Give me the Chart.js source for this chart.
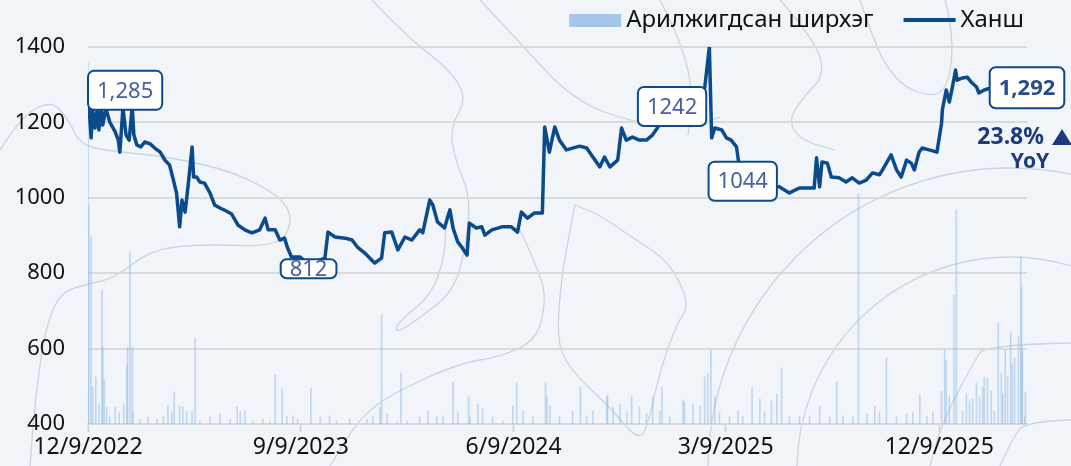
<!DOCTYPE html>
<html lang="mn">
<head>
<meta charset="utf-8">
<title>Ханш</title>
<script src="https://cdn.jsdelivr.net/npm/chart.js@4.4.1/dist/chart.umd.min.js"></script>
<style>
  html, body { margin: 0; padding: 0; background: #f1f5f9; }
  #wrap { position: relative; width: 1071px; height: 466px; }
</style>
</head>
<body>
<div id="wrap"><canvas id="chart"></canvas></div>
<script>
// x = days since 2022-12-09
const priceDays = [
  0, 4, 6, 9, 12, 14, 17, 19, 23, 28, 35, 39, 41, 45, 49, 53, 57, 59, 63, 68,
  73, 80, 86, 93, 99, 105, 109, 114, 118, 121, 125, 129, 131, 134, 136, 140, 144, 150, 157, 163,
  170, 178, 185, 193, 202, 211, 221, 228, 232, 241, 247, 253, 257, 262, 273, 280, 284, 292, 305, 309,
  318, 331, 340, 347, 356, 369, 378, 382, 391, 399, 408, 417, 427, 431, 440, 444, 450, 459, 466, 470,
  476, 482, 488, 491, 500, 507, 511, 520, 533, 545, 553, 558, 566, 575, 585, 588, 594, 601, 607, 616,
  633, 642, 650, 659, 665, 672, 682, 687, 693, 701, 710, 719, 727, 733, 742, 752, 770, 787, 794, 800,
  803, 807, 816, 822, 828, 835, 838, 843, 864, 890, 903, 916, 929, 935, 938, 942, 945, 952, 957, 967,
  976, 984, 993, 1002, 1010, 1019, 1023, 1034, 1041, 1047, 1054, 1060, 1064, 1070, 1074, 1083, 1093, 1099, 1100, 1105,
  1109, 1113, 1117, 1119, 1126, 1132, 1138, 1144, 1147, 1154, 1160, 1175, 1190, 1209
];
const priceValues = [
  1285, 1159, 1233, 1185, 1238, 1180, 1233, 1193, 1238, 1201, 1175, 1153, 1121, 1238, 1167, 1153, 1243, 1167, 1140, 1135,
  1148, 1143, 1132, 1121, 1100, 1087, 1055, 1013, 923, 994, 962, 1034, 1074, 1135, 1055, 1055, 1042, 1039, 1013, 981,
  973, 965, 957, 928, 915, 907, 915, 946, 915, 915, 888, 893, 867, 843, 843, 830, 812, 830, 840, 909,
  896, 893, 888, 869, 854, 827, 840, 907, 909, 862, 896, 888, 915, 907, 994, 981, 936, 920, 968, 920,
  883, 867, 848, 933, 920, 923, 901, 915, 923, 923, 909, 962, 946, 960, 960, 1188, 1121, 1188, 1153, 1127,
  1137, 1132, 1108, 1082, 1108, 1082, 1100, 1185, 1153, 1161, 1153, 1153, 1167, 1185, 1215, 1242, 1260, 1275, 1291, 1400,
  1159, 1185, 1180, 1159, 1153, 1135, 1090, 1044, 1034, 1029, 1013, 1026, 1026, 1026, 1106, 1029, 1095, 1092, 1055, 1053,
  1042, 1053, 1039, 1047, 1066, 1061, 1074, 1114, 1074, 1055, 1100, 1092, 1074, 1121, 1132, 1127, 1121, 1198, 1233, 1286,
  1254, 1294, 1339, 1312, 1318, 1320, 1305, 1294, 1278, 1286, 1290, 1295, 1288, 1292
];

// traded shares (thousands)
const volumeDays = [
  0, 1, 4, 6, 10, 14, 18, 19, 21, 24, 28, 35, 40, 46, 50, 51, 54, 57, 58, 67,
  77, 89, 97, 103, 108, 111, 118, 122, 127, 134, 138, 144, 157, 170, 183, 192, 196, 202, 212, 225,
  234, 241, 250, 256, 264, 270, 287, 299, 311, 320, 337, 359, 367, 376, 378, 385, 398, 403, 411, 427,
  438, 449, 457, 470, 476, 490, 492, 502, 508, 521, 534, 547, 552, 560, 573, 589, 591, 595, 607, 624,
  634, 642, 650, 668, 669, 676, 685, 694, 700, 710, 719, 727, 736, 739, 749, 766, 768, 779, 788, 794,
  798, 802, 807, 813, 826, 837, 843, 855, 865, 871, 880, 887, 893, 903, 916, 929, 942, 955, 964, 972,
  985, 992, 1003, 1013, 1019, 1028, 1041, 1054, 1062, 1071, 1080, 1088, 1099, 1103, 1105, 1109, 1115, 1118, 1126, 1131,
  1135, 1139, 1144, 1148, 1152, 1154, 1158, 1163, 1167, 1172, 1176, 1178, 1181, 1184, 1188, 1190, 1193, 1198, 1201, 1202,
  1203, 1206, 1207
];
const volumeValues = [
  958, 581, 496, 98, 125, 53, 355, 204, 117, 45, 19, 45, 32, 53, 157, 204, 456, 204, 34, 13,
  19, 13, 19, 48, 32, 85, 48, 45, 32, 34, 228, 8, 19, 27, 13, 45, 32, 34, 8, 13,
  8, 130, 93, 19, 21, 13, 95, 19, 21, 8, 13, 13, 19, 45, 289, 27, 5, 135, 8, 19,
  34, 19, 21, 111, 32, 72, 19, 53, 40, 19, 8, 48, 109, 34, 19, 109, 72, 48, 21, 34,
  98, 21, 34, 72, 77, 45, 53, 32, 74, 45, 27, 72, 34, 98, 19, 64, 58, 53, 48, 125,
  135, 196, 72, 32, 19, 34, 21, 98, 66, 32, 61, 80, 149, 19, 21, 21, 48, 19, 111, 21,
  19, 610, 27, 48, 32, 175, 19, 27, 32, 77, 21, 32, 87, 196, 170, 72, 342, 568, 34, 82,
  61, 66, 109, 72, 98, 125, 122, 87, 34, 268, 135, 80, 196, 125, 244, 159, 175, 231, 443, 363,
  196, 19, 85
];

const tickDays = [0, 274, 548, 821, 1096];
const tickLabels = ['12/9/2022', '9/9/2023', '6/9/2024', '3/9/2025', '12/9/2025'];

const calloutDays = [0, 284, 752, 843, 1209];
const calloutTexts = ['1,285', '812', '1242', '1044', '1,292'];
const yoyChange = '23.8%';

const NAVY = '#0b4a8b';
const FONT = "'Noto Sans', sans-serif";

// look of each callout box
const calloutLook = [
  { h: 39, font: '22px ' + FONT, color: '#4660a0' },
  { h: 19, font: '22px ' + FONT, color: '#4660a0' },
  { h: 39, font: '22px ' + FONT, color: '#4660a0' },
  { h: 39, font: '22px ' + FONT, color: '#4660a0' },
  { h: 41, font: 'bold 22px ' + FONT, color: '#2a4a8e' }
];

// faint topographic lines in the background
const contours = [
  [[0,150],[20,118],[50,100],[68,118],[80,145],[110,151],[170,157],[235,172],[283,198],[293,222],[278,247],[200,244],[150,250],[115,278],[88,284],[60,292],[45,330],[35,400],[30,466]],
  [[372,0],[405,35],[450,70],[467,98],[450,128],[455,160],[470,195],[467,240],[455,290],[420,318],[395,334],[398,322],[432,295],[445,255],[446,215]],
  [[480,0],[520,43],[573,100],[633,123],[693,127],[720,117]],
  [[660,0],[682,42],[694,100],[688,135]],
  [[520,230],[540,273],[546,300],[537,340],[500,357],[460,363],[395,392],[360,417],[330,466]],
  [[575,205],[567,245],[560,290],[557,347],[577,377],[610,407],[640,443],[650,417],[660,370],[677,323],[690,305],[670,262],[633,238],[600,215],[575,205]],
  [[860,0],[872,35],[885,65],[905,88],[933,97],[947,87],[953,55],[950,20],[945,0]],
  [[780,0],[815,40],[825,75],[805,95],[788,120],[800,140],[835,150]],
  [[1071,343],[985,345],[975,360],[943,420],[930,466]],
  [[1071,420],[1025,421],[1012,440],[1000,466]]
];

function smoothPath(ctx, pts) {
  ctx.beginPath();
  ctx.moveTo(pts[0][0], pts[0][1]);
  for (let i = 1; i < pts.length - 1; i++) {
    const mx = (pts[i][0] + pts[i + 1][0]) / 2;
    const my = (pts[i][1] + pts[i + 1][1]) / 2;
    ctx.quadraticCurveTo(pts[i][0], pts[i][1], mx, my);
  }
  const last = pts[pts.length - 1];
  ctx.lineTo(last[0], last[1]);
  ctx.stroke();
}

function roundBox(ctx, x, y, w, h, r) {
  ctx.beginPath();
  ctx.moveTo(x + r, y);
  ctx.arcTo(x + w, y, x + w, y + h, r);
  ctx.arcTo(x + w, y + h, x, y + h, r);
  ctx.arcTo(x, y + h, x, y, r);
  ctx.arcTo(x, y, x + w, y, r);
  ctx.closePath();
}

const backdrop = {
  id: 'backdrop',
  beforeDraw(chart) {
    const ctx = chart.ctx;
    ctx.save();
    ctx.fillStyle = '#f1f5f9';
    ctx.fillRect(0, 0, chart.width, chart.height);
    ctx.strokeStyle = 'rgba(150, 172, 200, 0.45)';
    ctx.lineWidth = 1.3;
    contours.forEach(c => smoothPath(ctx, c));
    [213, 302].forEach(r => {
      ctx.beginPath();
      ctx.arc(1010, 470, r, Math.PI, 2 * Math.PI);
      ctx.stroke();
    });
    ctx.restore();
  }
};

const overlay = {
  id: 'overlay',
  afterDatasetsDraw(chart) {
    const ctx = chart.ctx;
    const xs = chart.scales.x, ys = chart.scales.y;
    const area = chart.chartArea;
    ctx.save();

    // value callouts on the price line
    calloutDays.forEach((day, i) => {
      const value = priceValues[priceDays.indexOf(day)];
      const px = xs.getPixelForValue(day);
      const py = ys.getPixelForValue(value);
      const look = calloutLook[i];
      ctx.font = look.font;
      const w = ctx.measureText(calloutTexts[i]).width + 18;
      let left = px - w / 2;
      if (left < area.left) left = area.left;
      const top = py - look.h / 2;
      roundBox(ctx, left, top, w, look.h, 6);
      ctx.fillStyle = '#ffffff';
      ctx.fill();
      ctx.lineWidth = 2;
      ctx.strokeStyle = NAVY;
      ctx.stroke();
      ctx.fillStyle = look.color;
      ctx.textAlign = 'center';
      ctx.textBaseline = 'middle';
      ctx.fillText(calloutTexts[i], left + w / 2, py + 1);
    });

    // year-on-year change
    ctx.fillStyle = '#1d3a7a';
    ctx.font = 'bold 23px ' + FONT;
    ctx.textAlign = 'right';
    ctx.textBaseline = 'middle';
    ctx.fillText(yoyChange, 1044, 137);
    ctx.beginPath();
    ctx.moveTo(1052, 145);
    ctx.lineTo(1062, 129);
    ctx.lineTo(1072, 145);
    ctx.closePath();
    ctx.fill();
    ctx.font = 'bold 21px ' + FONT;
    ctx.textAlign = 'center';
    ctx.fillText('YoY', 1030, 162);

    // legend
    ctx.font = '24px ' + FONT;
    ctx.textAlign = 'left';
    ctx.fillStyle = '#111111';
    const priceLabel = chart.data.datasets[0].label;
    const volLabel = chart.data.datasets[1].label;
    const priceW = ctx.measureText(priceLabel).width;
    const volW = ctx.measureText(volLabel).width;
    const priceTextX = 1024 - priceW;
    ctx.fillText(priceLabel, priceTextX, 20);
    ctx.strokeStyle = NAVY;
    ctx.lineWidth = 4;
    ctx.beginPath();
    ctx.moveTo(priceTextX - 57, 20);
    ctx.lineTo(priceTextX - 5, 20);
    ctx.stroke();
    const volTextX = priceTextX - 87 - volW;
    ctx.fillText(volLabel, volTextX, 20);
    ctx.fillStyle = '#a3c6ea';
    ctx.fillRect(volTextX - 57, 14, 52, 13);

    ctx.restore();
  }
};

const tickFont = { family: FONT, size: 22 };

new Chart(document.getElementById('chart'), {
  data: {
    datasets: [
      {
        type: 'line',
        label: 'Ханш',
        data: priceDays.map((d, i) => ({ x: d, y: priceValues[i] })),
        borderColor: NAVY,
        borderWidth: 3.5,
        borderJoinStyle: 'round',
        pointRadius: 0,
        tension: 0,
        yAxisID: 'y',
        order: 0
      },
      {
        type: 'bar',
        label: 'Арилжигдсан ширхэг',
        data: volumeDays.map((d, i) => ({ x: d, y: volumeValues[i] })),
        backgroundColor: 'rgba(150, 190, 232, 0.55)',
        barThickness: 1,
        yAxisID: 'vol',
        order: 1
      }
    ]
  },
  options: {
    responsive: true,
    maintainAspectRatio: false,
    animation: false,
    layout: { padding: { top: 47, right: 44, left: 0, bottom: 0 } },
    plugins: { legend: { display: false }, tooltip: { enabled: false } },
    scales: {
      x: {
        type: 'linear',
        offset: false,
        min: 0,
        max: 1209,
        afterBuildTicks: s => { s.ticks = tickDays.map(v => ({ value: v })); },
        afterFit: s => { s.height = 42; },
        ticks: {
          callback: v => tickLabels[tickDays.indexOf(v)],
          font: { family: FONT, size: 23 },
          color: '#111111',
          padding: 2,
          maxRotation: 0,
          autoSkip: false
        },
        grid: { offset: false, drawOnChartArea: false, drawTicks: true, tickLength: 8, tickColor: '#d4d4d4', tickWidth: 2 },
        border: { display: true, color: '#d9d9d9', width: 2 }
      },
      y: {
        min: 400,
        max: 1400,
        afterFit: s => { s.width = 88; },
        ticks: { stepSize: 200, padding: 23, font: tickFont, color: '#111111', callback: v => String(v) },
        grid: { color: '#dadada', lineWidth: 2, drawTicks: false },
        border: { display: false }
      },
      vol: { display: false, min: 0, max: 1000 }
    }
  },
  plugins: [backdrop, overlay]
});
</script>
</body>
</html>
